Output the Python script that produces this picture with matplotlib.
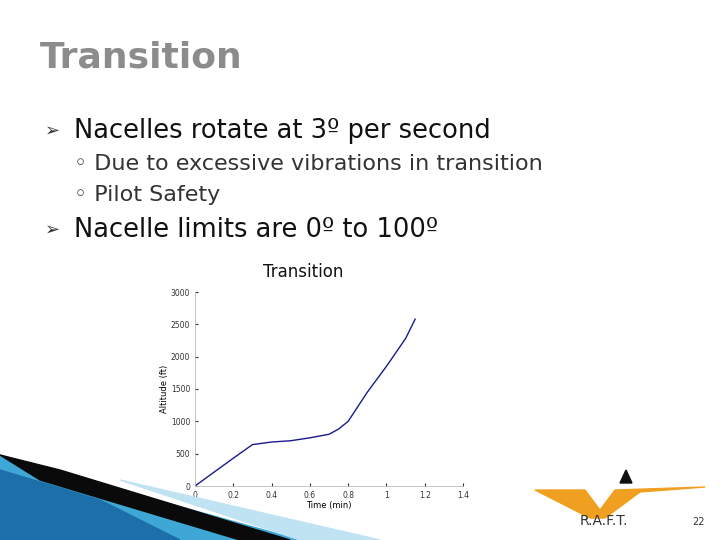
import numpy as np
import matplotlib.pyplot as plt
from matplotlib.patches import Polygon

time_min = [0, 0.1, 0.2, 0.3, 0.4, 0.5, 0.6, 0.7, 0.75, 0.8, 0.9, 1.0, 1.1, 1.15]
altitude_ft = [0, 215, 430, 640, 680, 700, 745, 800, 880, 1000, 1450, 1850, 2280, 2580]
x_ticks = [0, 0.2, 0.4, 0.6, 0.8, 1, 1.2, 1.4]
y_ticks = [0, 500, 1000, 1500, 2000, 2500, 3000]

fig = plt.figure(figsize=(7.2, 5.4), dpi=100)
W, H = 720, 540

def fx(px):
    return px / W

def fy(py):
    return 1 - py / H

# slide text
fig.text(fx(40), fy(58), "Transition", fontsize=26, fontweight="bold", color="#8c8c8c",
         va="center", ha="left")
fig.text(fx(45), fy(131), "➢", fontsize=13, color="#333333", va="center")
fig.text(fx(74), fy(131), "Nacelles rotate at 3º per second", fontsize=18.5, color="#111111", va="center")
fig.text(fx(74), fy(164), "◦ Due to excessive vibrations in transition", fontsize=16, color="#333333", va="center")
fig.text(fx(74), fy(195), "◦ Pilot Safety", fontsize=16, color="#333333", va="center")
fig.text(fx(45), fy(230), "➢", fontsize=13, color="#333333", va="center")
fig.text(fx(74), fy(230), "Nacelle limits are 0º to 100º", fontsize=18.5, color="#111111", va="center")
fig.text(fx(303), fy(272), "Transition", fontsize=12, color="#111111", ha="center", va="center")

# chart
ax = fig.add_axes([fx(195), fy(486), fx(463) - fx(195), fy(292) - fy(486)])
ax.plot(time_min, altitude_ft, color="#1a1a8c", lw=1)
ax.set_xlim(0, 1.4)
ax.set_ylim(0, 3000)
ax.set_xticks(x_ticks)
ax.set_xticklabels(["0", "0.2", "0.4", "0.6", "0.8", "1", "1.2", "1.4"])
ax.set_yticks(y_ticks)
ax.tick_params(labelsize=5.5, length=2, direction="in", colors="#333333")
ax.set_xlabel("Time (min)", fontsize=6, labelpad=1)
ax.set_ylabel("Altitude (ft)", fontsize=6, labelpad=1)
for s in ["top", "right"]:
    ax.spines[s].set_visible(False)
for s in ["left", "bottom"]:
    ax.spines[s].set_color("#bbbbbb")
    ax.spines[s].set_linewidth(0.6)

# decorative swoosh at bottom left
deco = fig.add_axes([0, 0, 1, 1], zorder=5)
deco.set_xlim(0, W)
deco.set_ylim(H, 0)
deco.axis("off")
deco.add_patch(Polygon([[0, 455], [120, 490], [300, 540], [0, 540]], color="#3ea7d6"))
deco.add_patch(Polygon([[0, 470], [100, 500], [180, 540], [0, 540]], color="#1c6fa8"))
deco.add_patch(Polygon([[0, 455], [60, 470], [290, 540], [240, 540], [40, 480]], color="#0a0a0a"))
deco.add_patch(Polygon([[120, 480], [380, 540], [300, 540]], color="#bfe3f3"))

# logo
deco.add_patch(Polygon([[535, 490], [585, 490], [600, 510], [615, 490], [705, 487],
                        [640, 492], [605, 518], [590, 518]], color="#f0a020"))
deco.add_patch(Polygon([[620, 483], [626, 470], [632, 483]], color="#111111"))
deco.text(580, 521, "R.A.F.T.", fontsize=10, color="#333333", va="center", zorder=10)
deco.text(692, 522, "22", fontsize=7, color="#333333", va="center")

fig.savefig("out.png", dpi=100)
